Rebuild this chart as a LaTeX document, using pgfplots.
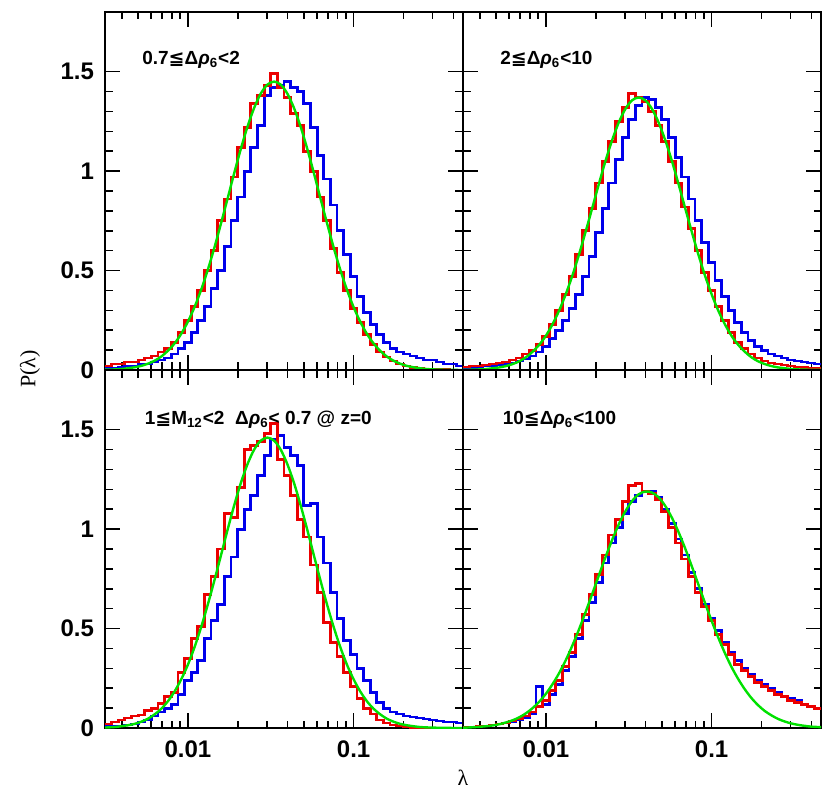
\documentclass[border=0pt]{standalone}
\usepackage{fontspec}
\setmainfont{Liberation Sans}
\newfontfamily\dejavu{DejaVu Sans}
\newfontfamily\lserif{Liberation Serif}
\usepackage{pgfplots}
\pgfplotsset{compat=1.18}
\usepackage{pgfplotstable}
\definecolor{hred}{RGB}{235,0,0}
\definecolor{hblue}{RGB}{0,0,235}
\definecolor{hgreen}{RGB}{0,225,0}
\newcommand{\lqq}{{\dejavu\bfseries ≦}}
\newcommand{\drho}{Δ{\itshape ρ}\textsubscript{6}}

% columns: e = left bin edge in log10(lambda), r = red, b = blue, g = green (at bin centre)
\pgfplotstableread{
e r b g
-2.54 0.02 0.01 0.001
-2.50 0.02 0.01 0.002
-2.46 0.03 0.01 0.003
-2.42 0.03 0.015 0.005
-2.38 0.04 0.02 0.009
-2.34 0.04 0.02 0.014
-2.30 0.05 0.03 0.021
-2.26 0.06 0.03 0.032
-2.22 0.07 0.04 0.047
-2.18 0.09 0.05 0.068
-2.14 0.11 0.06 0.097
-2.10 0.14 0.08 0.134
-2.06 0.19 0.11 0.182
-2.02 0.25 0.14 0.243
-1.98 0.32 0.19 0.316
-1.94 0.40 0.25 0.403
-1.90 0.50 0.32 0.503
-1.86 0.60 0.41 0.615
-1.82 0.75 0.50 0.737
-1.78 0.86 0.62 0.863
-1.74 0.97 0.75 0.991
-1.70 1.12 0.87 1.113
-1.66 1.22 1.00 1.224
-1.62 1.34 1.12 1.318
-1.58 1.38 1.23 1.390
-1.54 1.43 1.38 1.435
-1.50 1.49 1.42 1.450
-1.46 1.42 1.43 1.435
-1.42 1.37 1.45 1.390
-1.38 1.29 1.42 1.318
-1.34 1.23 1.40 1.224
-1.30 1.10 1.34 1.113
-1.26 1.00 1.22 0.991
-1.22 0.87 1.08 0.863
-1.18 0.75 0.96 0.737
-1.14 0.61 0.83 0.615
-1.10 0.49 0.70 0.503
-1.06 0.40 0.58 0.403
-1.02 0.31 0.47 0.316
-0.98 0.24 0.37 0.243
-0.94 0.18 0.29 0.182
-0.90 0.13 0.23 0.134
-0.86 0.09 0.18 0.097
-0.82 0.065 0.14 0.068
-0.78 0.045 0.11 0.047
-0.74 0.03 0.09 0.032
-0.70 0.02 0.08 0.021
-0.66 0.012 0.07 0.014
-0.62 0.008 0.06 0.009
-0.58 0.005 0.05 0.005
-0.54 0.003 0.05 0.003
-0.50 0.002 0.04 0.002
-0.46 0.001 0.03 0.001
-0.42 0 0.03 0.001
-0.38 0 0.02 0
-0.34 0 0.02 0
}\tabTL

\pgfplotstableread{
e r b g
-2.54 0.015 0.01 0.001
-2.50 0.015 0.01 0.001
-2.46 0.02 0.01 0.002
-2.42 0.02 0.015 0.003
-2.38 0.025 0.02 0.005
-2.34 0.03 0.02 0.009
-2.30 0.035 0.025 0.013
-2.26 0.04 0.03 0.020
-2.22 0.05 0.035 0.030
-2.18 0.06 0.045 0.044
-2.14 0.08 0.055 0.064
-2.10 0.10 0.07 0.092
-2.06 0.13 0.09 0.127
-2.02 0.17 0.12 0.172
-1.98 0.23 0.16 0.230
-1.94 0.30 0.20 0.299
-1.90 0.38 0.25 0.381
-1.86 0.47 0.31 0.475
-1.82 0.58 0.38 0.581
-1.78 0.70 0.47 0.696
-1.74 0.81 0.57 0.815
-1.70 0.94 0.69 0.936
-1.66 1.05 0.81 1.052
-1.62 1.15 0.94 1.156
-1.58 1.25 1.06 1.245
-1.54 1.32 1.17 1.313
-1.50 1.39 1.26 1.356
-1.46 1.37 1.33 1.370
-1.42 1.35 1.37 1.356
-1.38 1.30 1.36 1.313
-1.34 1.23 1.32 1.245
-1.30 1.15 1.26 1.156
-1.26 1.05 1.17 1.052
-1.22 0.94 1.07 0.936
-1.18 0.82 0.97 0.815
-1.14 0.71 0.86 0.696
-1.10 0.60 0.75 0.581
-1.06 0.49 0.64 0.475
-1.02 0.40 0.54 0.381
-0.98 0.32 0.45 0.299
-0.94 0.25 0.37 0.230
-0.90 0.19 0.30 0.172
-0.86 0.14 0.24 0.127
-0.82 0.11 0.19 0.092
-0.78 0.08 0.15 0.064
-0.74 0.06 0.12 0.044
-0.70 0.045 0.10 0.030
-0.66 0.035 0.08 0.020
-0.62 0.03 0.07 0.013
-0.58 0.025 0.06 0.009
-0.54 0.02 0.05 0.005
-0.50 0.015 0.045 0.003
-0.46 0.012 0.04 0.002
-0.42 0.01 0.035 0.001
-0.38 0.008 0.03 0.001
-0.34 0.008 0.03 0
}\tabTR

\pgfplotstableread{
e r b g
-2.54 0.02 0.01 0.002
-2.50 0.02 0.01 0.003
-2.46 0.03 0.01 0.005
-2.42 0.04 0.01 0.009
-2.38 0.05 0.015 0.014
-2.34 0.06 0.02 0.021
-2.30 0.065 0.03 0.032
-2.26 0.09 0.04 0.047
-2.22 0.10 0.06 0.069
-2.18 0.125 0.08 0.097
-2.14 0.16 0.10 0.135
-2.10 0.18 0.12 0.184
-2.06 0.28 0.17 0.245
-2.02 0.35 0.24 0.318
-1.98 0.45 0.28 0.406
-1.94 0.51 0.34 0.507
-1.90 0.67 0.45 0.620
-1.86 0.76 0.54 0.742
-1.82 0.90 0.62 0.869
-1.78 1.08 0.76 0.998
-1.74 1.06 0.86 1.121
-1.70 1.21 1.00 1.233
-1.66 1.40 1.10 1.327
-1.62 1.42 1.17 1.400
-1.58 1.44 1.27 1.445
-1.54 1.48 1.37 1.460
-1.50 1.53 1.45 1.445
-1.46 1.35 1.47 1.400
-1.42 1.27 1.41 1.327
-1.38 1.17 1.37 1.233
-1.34 1.05 1.32 1.121
-1.30 0.96 1.12 0.998
-1.26 0.82 1.13 0.869
-1.22 0.68 0.96 0.742
-1.18 0.53 0.83 0.620
-1.14 0.43 0.68 0.507
-1.10 0.36 0.55 0.406
-1.06 0.28 0.44 0.318
-1.02 0.21 0.37 0.245
-0.98 0.15 0.30 0.184
-0.94 0.10 0.24 0.135
-0.90 0.07 0.18 0.097
-0.86 0.04 0.13 0.069
-0.82 0.025 0.10 0.047
-0.78 0.015 0.08 0.032
-0.74 0.01 0.07 0.021
-0.70 0.005 0.06 0.014
-0.66 0 0.055 0.009
-0.62 0 0.05 0.005
-0.58 0 0.045 0.003
-0.54 0 0.04 0.002
-0.50 0 0.035 0.001
-0.46 0 0.03 0.001
-0.42 0 0.03 0
-0.38 0 0.025 0
-0.34 0 0.025 0
}\tabBL

\pgfplotstableread{
e r b g
-2.54 0.005 0.005 0.002
-2.50 0.005 0.005 0.002
-2.46 0.005 0.005 0.004
-2.42 0.01 0.01 0.006
-2.38 0.01 0.01 0.009
-2.34 0.015 0.015 0.013
-2.30 0.02 0.02 0.019
-2.26 0.025 0.025 0.028
-2.22 0.035 0.03 0.039
-2.18 0.045 0.04 0.054
-2.14 0.06 0.05 0.074
-2.10 0.08 0.07 0.100
-2.06 0.11 0.21 0.132
-2.02 0.14 0.12 0.172
-1.98 0.19 0.17 0.220
-1.94 0.24 0.22 0.276
-1.90 0.31 0.29 0.341
-1.86 0.38 0.36 0.415
-1.82 0.47 0.45 0.496
-1.78 0.57 0.54 0.584
-1.74 0.67 0.63 0.675
-1.70 0.77 0.73 0.768
-1.66 0.87 0.83 0.860
-1.62 0.97 0.93 0.946
-1.58 1.05 1.01 1.024
-1.54 1.14 1.08 1.090
-1.50 1.22 1.14 1.141
-1.46 1.23 1.17 1.175
-1.42 1.19 1.19 1.189
-1.38 1.18 1.19 1.184
-1.34 1.15 1.16 1.160
-1.30 1.09 1.10 1.117
-1.26 1.01 1.03 1.058
-1.22 0.93 0.95 0.986
-1.18 0.85 0.87 0.904
-1.14 0.76 0.78 0.814
-1.10 0.68 0.70 0.722
-1.06 0.61 0.62 0.629
-1.02 0.54 0.55 0.539
-0.98 0.47 0.49 0.455
-0.94 0.42 0.43 0.377
-0.90 0.37 0.38 0.307
-0.86 0.32 0.34 0.247
-0.82 0.29 0.30 0.195
-0.78 0.26 0.27 0.151
-0.74 0.23 0.24 0.115
-0.70 0.21 0.22 0.086
-0.66 0.19 0.20 0.064
-0.62 0.17 0.18 0.046
-0.58 0.16 0.16 0.033
-0.54 0.14 0.15 0.023
-0.50 0.13 0.14 0.016
-0.46 0.12 0.12 0.011
-0.42 0.11 0.11 0.007
-0.38 0.10 0.10 0.005
-0.34 0.10 0.10 0.003
}\tabBR

\pgfplotsset{
  panel/.style={
    scale only axis, width=179pt, height=179pt,
    xmin=-2.5, xmax=-0.34, ymin=0, ymax=1.8,
    xtick={-2,-1},
    minor xtick={-2.398,-2.301,-2.222,-2.155,-2.097,-2.046,-1.699,-1.523,-1.398,-1.301,-1.222,-1.155,-1.097,-1.046,-0.699,-0.523,-0.398},
    ytick={0,0.5,1,1.5}, minor y tick num=4,
    tick align=inside, tick pos=both,
    major tick length=7.5pt, minor tick length=3.75pt,
    every tick/.append style={black, line width=0.8pt},
    axis line style={line width=1pt},
    ticklabel style={font=\bfseries\fontsize{12}{14}\selectfont},
    xticklabel style={yshift=-3pt},
    yticklabel style={xshift=-2pt},
  },
  hb/.style={hblue, const plot, line width=1.4pt},
  hr/.style={hred, const plot, line width=1.4pt},
  hg/.style={hgreen, smooth, line width=1.2pt},
}
\tikzset{ttl/.style={anchor=west, font=\bfseries\fontsize{9.5}{11}\selectfont, inner sep=0pt}}

\begin{document}
\begin{tikzpicture}
\useasboundingbox (-52.5pt,-32.5pt) rectangle (362.5pt,364pt);

% top left
\begin{axis}[panel, at={(0pt,179pt)}, anchor=south west, xticklabels={}, yticklabels={0,0.5,1,1.5}]
\addplot[hb] table[x=e,y=b]{\tabTL};
\addplot[hr] table[x=e,y=r]{\tabTL};
\addplot[hg] table[x expr=\thisrow{e}+0.02,y=g]{\tabTL};
\node[ttl] at (rel axis cs:0.103,0.866) {0.7\lqq\drho<2};
\end{axis}

% top right
\begin{axis}[panel, at={(179pt,179pt)}, anchor=south west, xticklabels={}, yticklabels={}]
\addplot[hb] table[x=e,y=b]{\tabTR};
\addplot[hr] table[x=e,y=r]{\tabTR};
\addplot[hg] table[x expr=\thisrow{e}+0.02,y=g]{\tabTR};
\node[ttl] at (rel axis cs:0.103,0.866) {2\lqq\drho<10};
\end{axis}

% bottom left
\begin{axis}[panel, at={(0pt,0pt)}, anchor=south west, xticklabels={0.01,0.1}, yticklabels={0,0.5,1,1.5}]
\addplot[hb] table[x=e,y=b]{\tabBL};
\addplot[hr] table[x=e,y=r]{\tabBL};
\addplot[hg] table[x expr=\thisrow{e}+0.02,y=g]{\tabBL};
\node[ttl] at (rel axis cs:0.11,0.862) {1\lqq M\textsubscript{12}<2\ \ \drho< 0.7 @ z=0};
\end{axis}

% bottom right
\begin{axis}[panel, at={(179pt,0pt)}, anchor=south west, xticklabels={0.01,0.1}, yticklabels={}]
\addplot[hb] table[x=e,y=b]{\tabBR};
\addplot[hr] table[x=e,y=r]{\tabBR};
\addplot[hg] table[x expr=\thisrow{e}+0.02,y=g]{\tabBR};
\node[ttl] at (rel axis cs:0.11,0.862) {10\lqq\drho<100};
\end{axis}

\node[rotate=90, font=\lserif\fontsize{11}{13}\selectfont] at (-37.5pt,179.5pt) {P(λ)};
\node[font=\lserif\fontsize{11}{13}\selectfont] at (179pt,-25pt) {λ};
\end{tikzpicture}
\end{document}
